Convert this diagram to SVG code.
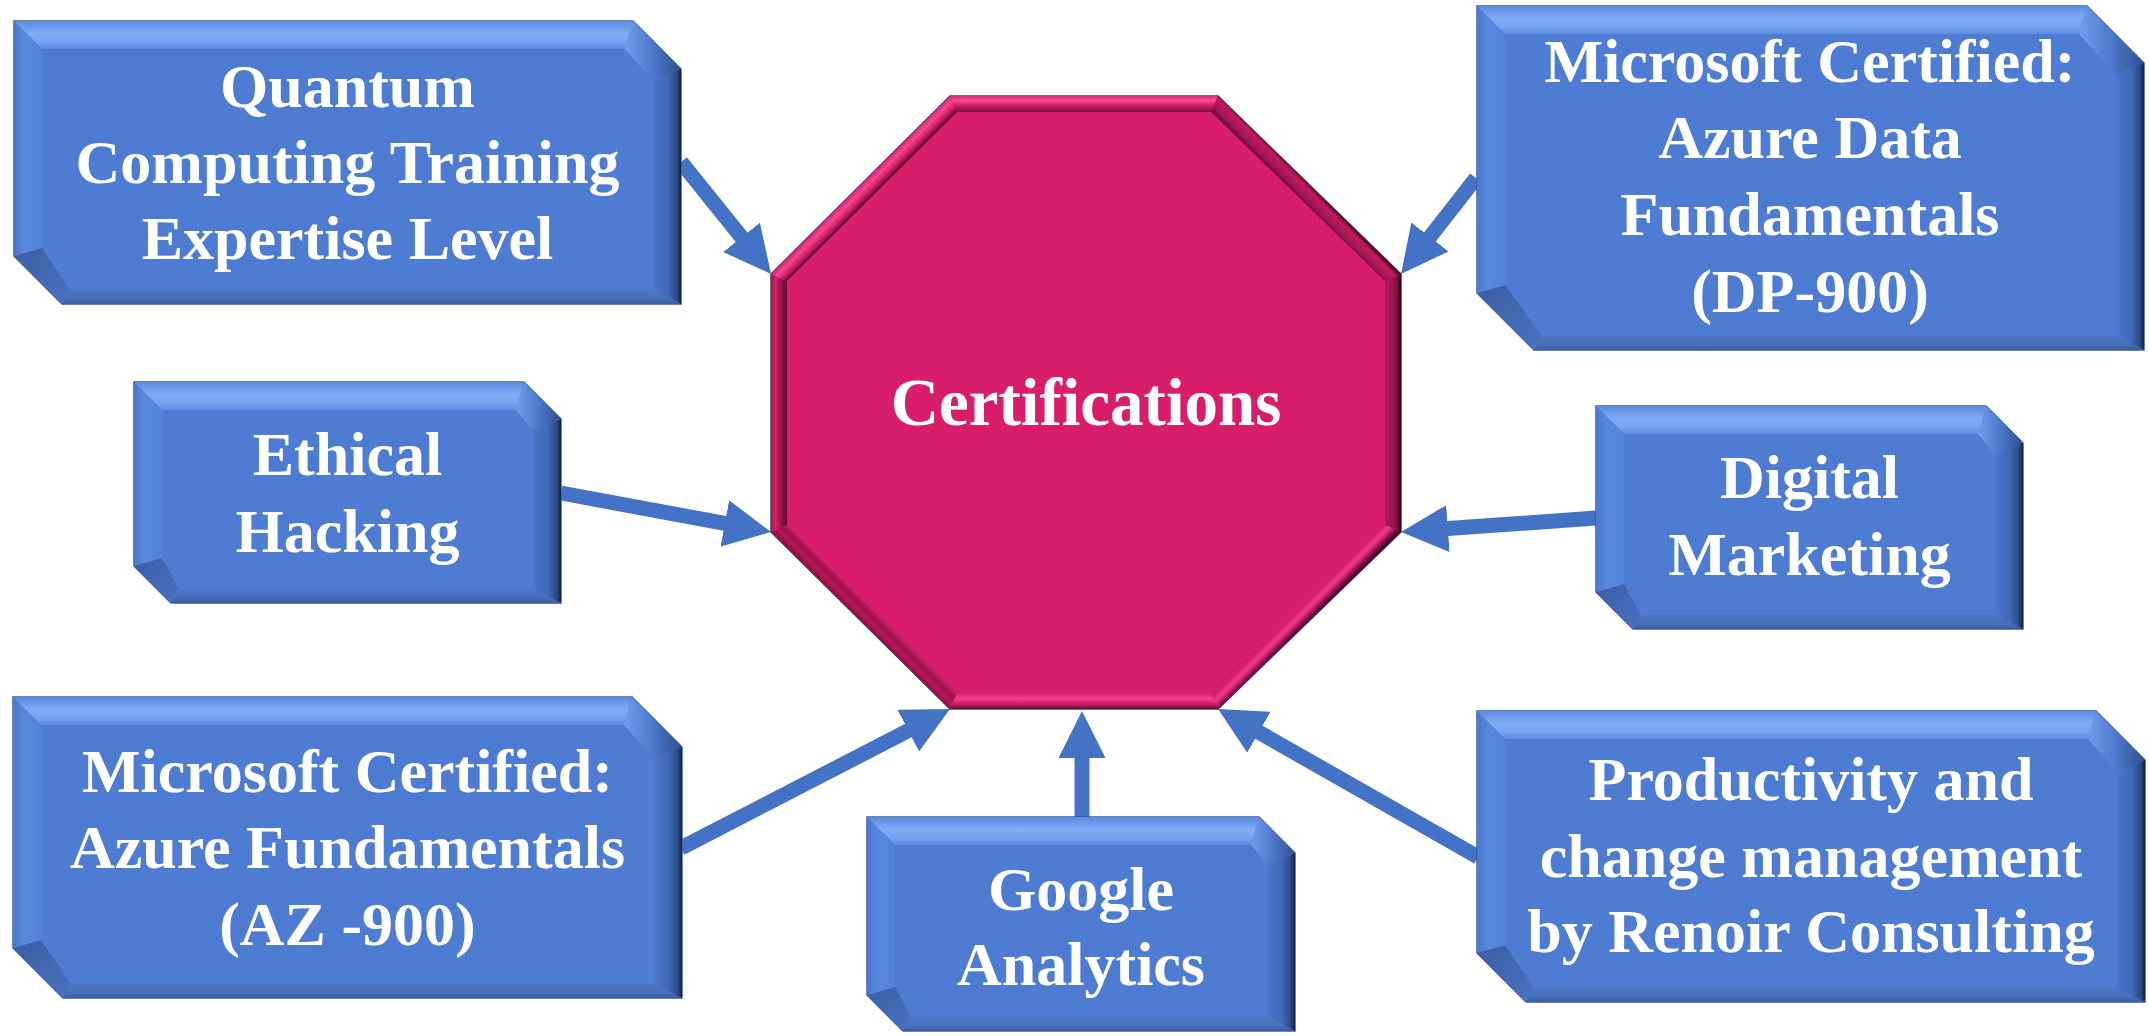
<svg xmlns="http://www.w3.org/2000/svg" width="2149" height="1036" viewBox="0 0 2149 1036">
<defs>
<style>
.lbl{font-family:"Liberation Serif","Times New Roman",serif;font-weight:bold;font-size:62px;fill:#ffffff;text-anchor:middle}
.ctr{font-size:67px}
.out{fill:#4E7CD2;stroke:#3B5A94;stroke-width:1.5}
.face{fill:#4E7CD2}
.ft{fill:url(#gTop)}
.fl{fill:url(#gLeft)}
.fr{fill:url(#gRight)}
.fb{fill:url(#gBot)}
.ftr{fill:url(#gTR)}
.fbl{fill:url(#gBL)}
.conn{stroke:#4472C4;stroke-width:15;fill:none;marker-end:url(#ah)}
</style>
<marker id="ah" markerUnits="userSpaceOnUse" markerWidth="47" markerHeight="47" viewBox="0 0 47 47" refX="7" refY="23.5" orient="auto">
<path d="M0,0 L47,23.5 L0,47 Z" fill="#4472C4"/>
</marker>
<linearGradient id="gTop" x1="0" y1="0" x2="0" y2="1"><stop offset="0" stop-color="#5A8BE0"/><stop offset="0.45" stop-color="#80ABF6"/><stop offset="0.75" stop-color="#76A2F0"/><stop offset="1" stop-color="#5C8BE0"/></linearGradient>
<linearGradient id="gLeft" x1="0" y1="0" x2="1" y2="0"><stop offset="0" stop-color="#4A78CB"/><stop offset="0.4" stop-color="#5888DE"/><stop offset="1" stop-color="#5383D9"/></linearGradient>
<linearGradient id="gRight" x1="0" y1="0" x2="1" y2="0"><stop offset="0" stop-color="#4B79CD"/><stop offset="0.55" stop-color="#3F68B4"/><stop offset="0.85" stop-color="#2A4A85"/><stop offset="1" stop-color="#13233F"/></linearGradient>
<linearGradient id="gBot" x1="0" y1="0" x2="0" y2="1"><stop offset="0" stop-color="#4C77C6"/><stop offset="0.6" stop-color="#4870BA"/><stop offset="1" stop-color="#3A5C9E"/></linearGradient>
<linearGradient id="gTR" x1="0" y1="0" x2="1" y2="0"><stop offset="0" stop-color="#6F9CEC"/><stop offset="0.5" stop-color="#4C79CA"/><stop offset="1" stop-color="#2F5090"/></linearGradient>
<linearGradient id="gBL" x1="0" y1="0" x2="1" y2="1"><stop offset="0" stop-color="#3A5EA4"/><stop offset="1" stop-color="#4A73C0"/></linearGradient>
<!-- octagon gradients -->
<linearGradient id="oTop" gradientUnits="userSpaceOnUse" x1="0" y1="96" x2="0" y2="112"><stop offset="0" stop-color="#E42C78"/><stop offset="0.3" stop-color="#FA4C95"/><stop offset="0.6" stop-color="#D01C66"/><stop offset="1" stop-color="#80113F"/></linearGradient>
<linearGradient id="oTL" gradientUnits="userSpaceOnUse" x1="860" y1="185" x2="871" y2="196"><stop offset="0" stop-color="#D8226C"/><stop offset="0.35" stop-color="#F5468F"/><stop offset="0.75" stop-color="#C81B62"/><stop offset="1" stop-color="#6E0C36"/></linearGradient>
<linearGradient id="oTR" gradientUnits="userSpaceOnUse" x1="1310" y1="185" x2="1299" y2="196"><stop offset="0" stop-color="#5A0A2C"/><stop offset="0.25" stop-color="#C01A60"/><stop offset="0.8" stop-color="#A31555"/><stop offset="1" stop-color="#7C0F40"/></linearGradient>
<linearGradient id="oRight" gradientUnits="userSpaceOnUse" x1="1401" y1="0" x2="1385" y2="0"><stop offset="0" stop-color="#2A0414"/><stop offset="0.3" stop-color="#8E1246"/><stop offset="1" stop-color="#B8185C"/></linearGradient>
<linearGradient id="oBR" gradientUnits="userSpaceOnUse" x1="1310" y1="620" x2="1299" y2="609"><stop offset="0" stop-color="#4A0822"/><stop offset="0.3" stop-color="#A8155A"/><stop offset="0.6" stop-color="#F23E8A"/><stop offset="1" stop-color="#D21D68"/></linearGradient>
<linearGradient id="oBot" gradientUnits="userSpaceOnUse" x1="0" y1="709" x2="0" y2="693"><stop offset="0" stop-color="#6B0C34"/><stop offset="0.35" stop-color="#D41F6A"/><stop offset="0.65" stop-color="#F5408C"/><stop offset="1" stop-color="#D81E6A"/></linearGradient>
<linearGradient id="oBL" gradientUnits="userSpaceOnUse" x1="860" y1="620" x2="871" y2="609"><stop offset="0" stop-color="#8A1244"/><stop offset="0.4" stop-color="#B81858"/><stop offset="0.7" stop-color="#9C1450"/><stop offset="1" stop-color="#C41A60"/></linearGradient>
<linearGradient id="oLeft" gradientUnits="userSpaceOnUse" x1="771" y1="0" x2="787" y2="0"><stop offset="0" stop-color="#A81550"/><stop offset="0.3" stop-color="#D42068"/><stop offset="0.7" stop-color="#8C1244"/><stop offset="1" stop-color="#5E0A2C"/></linearGradient>
</defs>
<rect width="2149" height="1036" fill="#ffffff"/>

<g id="connectors">
<line class="conn" x1="681" y1="162" x2="746" y2="242.8"/>
<line class="conn" x1="1476" y1="178" x2="1425.6" y2="242.5"/>
<line class="conn" x1="561" y1="493" x2="731.7" y2="524.7"/>
<line class="conn" x1="1596" y1="518" x2="1440.9" y2="529.1"/>
<line class="conn" x1="681" y1="848" x2="914.5" y2="727.4"/>
<line class="conn" x1="1082" y1="817" x2="1082" y2="751"/>
<line class="conn" x1="1478" y1="857" x2="1252.8" y2="728.8"/>
</g>

<g id="node-certifications">
<polygon points="950,96 1218,96 1401,274 1401,532 1218,709 950,709 771,532 771,274" fill="#D81E6A" stroke="#2F3F66" stroke-width="1.5"/>
<polygon points="950,96 1218,96 1211,112 957,112" fill="url(#oTop)"/>
<polygon points="1218,96 1401,274 1385,281 1211,112" fill="url(#oTR)"/>
<polygon points="1401,274 1401,532 1385,525 1385,281" fill="url(#oRight)"/>
<polygon points="1401,532 1218,709 1211,693 1385,525" fill="url(#oBR)"/>
<polygon points="1218,709 950,709 957,693 1211,693" fill="url(#oBot)"/>
<polygon points="950,709 771,532 787,525 957,693" fill="url(#oBL)"/>
<polygon points="771,532 771,274 787,281 787,525" fill="url(#oLeft)"/>
<polygon points="771,274 950,96 957,112 787,281" fill="url(#oTL)"/>
<text class="lbl ctr" x="1086" y="425">Certifications</text>
</g>

<g id="node-quantum">
<polygon class="out" points="14,21 633,21 681,69 681,304 62,304 14,256"/>
<polygon class="ft" points="14,21 633,21 625,49 42,49"/>
<polygon class="ftr" points="633,21 681,69 653,81 625,49"/>
<polygon class="fr" points="681,69 681,304 653,290 653,81"/>
<polygon class="fb" points="681,304 62,304 70,290 653,290"/>
<polygon class="fbl" points="62,304 14,256 42,248 70,290"/>
<polygon class="fl" points="14,256 14,21 42,49 42,248"/>
<text class="lbl" x="347.5" y="107">Quantum</text>
<text class="lbl" x="347.5" y="183">Computing Training</text>
<text class="lbl" x="347.5" y="259">Expertise Level</text>
</g>

<g id="node-dp900">
<polygon class="out" points="1477,6 2087,6 2144,63 2144,350 1534,350 1477,293"/>
<polygon class="ft" points="1477,6 2087,6 2079,34 1505,34"/>
<polygon class="ftr" points="2087,6 2144,63 2116,75 2079,34"/>
<polygon class="fr" points="2144,63 2144,350 2116,336 2116,75"/>
<polygon class="fb" points="2144,350 1534,350 1542,336 2116,336"/>
<polygon class="fbl" points="1534,350 1477,293 1505,285 1542,336"/>
<polygon class="fl" points="1477,293 1477,6 1505,34 1505,285"/>
<text class="lbl" x="1810" y="82">Microsoft Certified:</text>
<text class="lbl" x="1810" y="158">Azure Data</text>
<text class="lbl" x="1810" y="235">Fundamentals</text>
<text class="lbl" x="1810" y="312">(DP-900)</text>
</g>

<g id="node-ethical">
<polygon class="out" points="134,382 524,382 561,419 561,603 171,603 134,566"/>
<polygon class="ft" points="134,382 524,382 516,410 162,410"/>
<polygon class="ftr" points="524,382 561,419 533,431 516,410"/>
<polygon class="fr" points="561,419 561,603 533,589 533,431"/>
<polygon class="fb" points="561,603 171,603 179,589 533,589"/>
<polygon class="fbl" points="171,603 134,566 162,558 179,589"/>
<polygon class="fl" points="134,566 134,382 162,410 162,558"/>
<text class="lbl" x="347.5" y="475">Ethical</text>
<text class="lbl" x="347.5" y="552">Hacking</text>
</g>

<g id="node-digital">
<polygon class="out" points="1596,406 1986,406 2023,443 2023,629 1633,629 1596,592"/>
<polygon class="ft" points="1596,406 1986,406 1978,434 1624,434"/>
<polygon class="ftr" points="1986,406 2023,443 1995,455 1978,434"/>
<polygon class="fr" points="2023,443 2023,629 1995,615 1995,455"/>
<polygon class="fb" points="2023,629 1633,629 1641,615 1995,615"/>
<polygon class="fbl" points="1633,629 1596,592 1624,584 1641,615"/>
<polygon class="fl" points="1596,592 1596,406 1624,434 1624,584"/>
<text class="lbl" x="1809.5" y="498">Digital</text>
<text class="lbl" x="1809.5" y="575">Marketing</text>
</g>

<g id="node-az900">
<polygon class="out" points="13,697 632,697 682,747 682,998 63,998 13,948"/>
<polygon class="ft" points="13,697 632,697 624,725 41,725"/>
<polygon class="ftr" points="632,697 682,747 654,759 624,725"/>
<polygon class="fr" points="682,747 682,998 654,984 654,759"/>
<polygon class="fb" points="682,998 63,998 71,984 654,984"/>
<polygon class="fbl" points="63,998 13,948 41,940 71,984"/>
<polygon class="fl" points="13,948 13,697 41,725 41,940"/>
<text class="lbl" x="347.5" y="792">Microsoft Certified:</text>
<text class="lbl" x="347.5" y="868">Azure Fundamentals</text>
<text class="lbl" x="347.5" y="945">(AZ -900)</text>
</g>

<g id="node-google">
<polygon class="out" points="867,817 1259,817 1295,853 1295,1031 903,1031 867,995"/>
<polygon class="ft" points="867,817 1259,817 1251,845 895,845"/>
<polygon class="ftr" points="1259,817 1295,853 1267,865 1251,845"/>
<polygon class="fr" points="1295,853 1295,1031 1267,1017 1267,865"/>
<polygon class="fb" points="1295,1031 903,1031 911,1017 1267,1017"/>
<polygon class="fbl" points="903,1031 867,995 895,987 911,1017"/>
<polygon class="fl" points="867,995 867,817 895,845 895,987"/>
<text class="lbl" x="1081" y="910">Google</text>
<text class="lbl" x="1081" y="985">Analytics</text>
</g>

<g id="node-productivity">
<polygon class="out" points="1477,711 2096,711 2145,760 2145,1002 1526,1002 1477,953"/>
<polygon class="ft" points="1477,711 2096,711 2088,739 1505,739"/>
<polygon class="ftr" points="2096,711 2145,760 2117,772 2088,739"/>
<polygon class="fr" points="2145,760 2145,1002 2117,988 2117,772"/>
<polygon class="fb" points="2145,1002 1526,1002 1534,988 2117,988"/>
<polygon class="fbl" points="1526,1002 1477,953 1505,945 1534,988"/>
<polygon class="fl" points="1477,953 1477,711 1505,739 1505,945"/>
<text class="lbl" x="1811" y="800">Productivity and</text>
<text class="lbl" x="1811" y="877">change management</text>
<text class="lbl" x="1811" y="952">by Renoir Consulting</text>
</g>
</svg>
